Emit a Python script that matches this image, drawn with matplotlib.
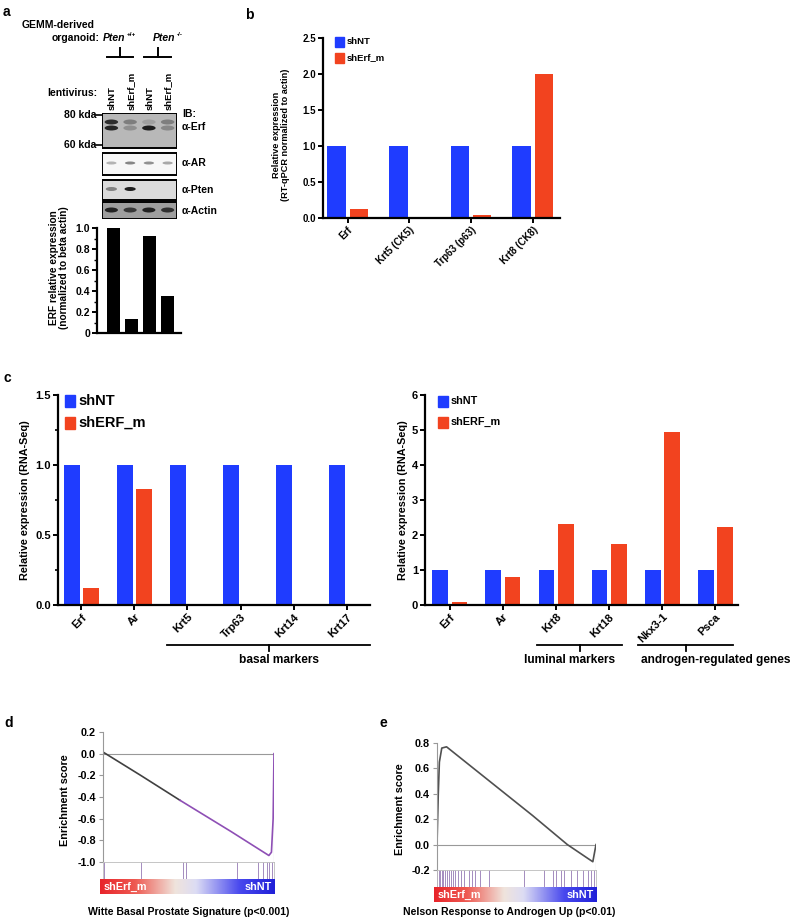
import numpy as np
import matplotlib
matplotlib.use('Agg')
import matplotlib.pyplot as plt
from matplotlib.patches import Rectangle, Ellipse
from matplotlib.lines import Line2D
from matplotlib.colors import LinearSegmentedColormap

plt.rcParams['font.family'] = ['Liberation Sans', 'DejaVu Sans']
plt.rcParams['font.weight'] = 'bold'
plt.rcParams['axes.labelweight'] = 'bold'
plt.rcParams['axes.unicode_minus'] = False

W, H = 800, 917
BLUE = '#1f3cff'
RED = '#f2431f'

# ---- data ----
# panel a: western blot lanes + quantification
lanes_a = ['shNT', 'shErf_m', 'shNT', 'shErf_m']
erf_rel_a = [1.0, 0.13, 0.92, 0.35]
erf_upper = [0.85, 0.35, 0.15, 0.35]
erf_lower = [0.9, 0.25, 0.95, 0.3]
ar_band = [0.3, 0.5, 0.45, 0.35]
pten_band = [0.45, 0.95, 0.0, 0.0]
actin_band = [0.9, 0.75, 0.9, 0.8]

# panel b: RT-qPCR
genes_b = ['Erf', 'Krt5 (CK5)', 'Trp63 (p63)', 'Krt8 (CK8)']
shnt_b = [1.0, 1.0, 1.0, 1.0]
sherf_b = [0.12, 0.005, 0.04, 2.0]

# panel c: RNA-Seq
genes_c1 = ['Erf', 'Ar', 'Krt5', 'Trp63', 'Krt14', 'Krt17']
shnt_c1 = [1.0, 1.0, 1.0, 1.0, 1.0, 1.0]
sherf_c1 = [0.12, 0.83, 0.005, 0.005, 0.005, 0.01]

genes_c2 = ['Erf', 'Ar', 'Krt8', 'Krt18', 'Nkx3-1', 'Psca']
shnt_c2 = [1.0, 1.0, 1.0, 1.0, 1.0, 1.0]
sherf_c2 = [0.1, 0.81, 2.31, 1.74, 4.93, 2.23]

# panels d/e: GSEA running enrichment score
rank_d = [0.0, 0.22, 0.45, 0.75, 0.95, 0.97, 0.985, 0.995, 1.0]
es_d = [0.015, -0.2, -0.43, -0.72, -0.92, -0.94, -0.91, -0.6, 0.0]
hits_d = [0.006, 0.225, 0.465, 0.488, 0.785, 0.908, 0.937, 0.957, 0.973, 0.986]

rank_e = [0.0, 0.008, 0.015, 0.03, 0.06, 0.3, 0.6, 0.82, 0.95, 0.98, 1.0]
es_e = [0.0, 0.4, 0.65, 0.76, 0.77, 0.53, 0.23, 0.0, -0.11, -0.135, 0.0]
hits_e = [0.0, 0.01, 0.02, 0.03, 0.04, 0.05, 0.06, 0.075, 0.09, 0.1, 0.115,
          0.13, 0.15, 0.17, 0.2, 0.22, 0.24, 0.27, 0.33, 0.55, 0.67, 0.73,
          0.75, 0.78, 0.8, 0.84, 0.88, 0.92, 0.95, 0.97, 0.99]

fig = plt.figure(figsize=(W / 100, H / 100), dpi=100)


def px_axes(x0, y0, x1, y1):
    return fig.add_axes([x0 / W, 1 - y1 / H, (x1 - x0) / W, (y1 - y0) / H])


def ftext(x, y, s, **kw):
    kw.setdefault('va', 'center')
    fig.text(x / W, 1 - y / H, s, **kw)


def fline(xs, ys, lw=1.3, color='black'):
    fig.add_artist(Line2D([x / W for x in xs], [1 - y / H for y in ys],
                          lw=lw, color=color))


def style_axes(ax, fs):
    for s in ['top', 'right']:
        ax.spines[s].set_visible(False)
    for s in ['left', 'bottom']:
        ax.spines[s].set_linewidth(1.6)
    ax.tick_params(width=1.4, length=3.5, labelsize=fs, pad=1.5)


def grouped(ax, names, a, b, fs):
    x = np.arange(len(names))
    ax.bar(x - 0.18, a, 0.3, color=BLUE)
    ax.bar(x + 0.18, b, 0.3, color=RED)
    ax.set_xticks(x)
    ax.set_xticklabels(names, rotation=45, ha='right', rotation_mode='anchor',
                       fontsize=fs)


def legend_boxes(x, ys, size, fs, labels):
    for y, lab, c in zip(ys, labels, [BLUE, RED]):
        fig.add_artist(Rectangle((x / W, 1 - (y + size[1] / 2) / H),
                                 size[0] / W, size[1] / H, color=c,
                                 transform=fig.transFigure))
        ftext(x + size[0] + 3, y, lab, fontsize=fs)


# ---------------- panel a ----------------
ftext(3, 12, 'a', fontsize=10)
ftext(22, 25, 'GEMM-derived', fontsize=7.5)
ftext(100, 38, 'organoid:', fontsize=7.5, ha='right')
ftext(103, 38, 'Pten', fontsize=7.5, style='italic')
ftext(127, 35, '+/+', fontsize=4.5)
ftext(153, 38, 'Pten', fontsize=7.5, style='italic')
ftext(177, 35, '-/-', fontsize=4.5)
for xa, xb in [(107, 133), (144, 171)]:
    fline([xa, xb], [57, 57], lw=1.4)
    fline([(xa + xb) / 2] * 2, [57, 48], lw=1.4)
ftext(97, 93, 'lentivirus:', fontsize=7.5, ha='right')

bx0, bx1 = 102, 177
lane_px = [bx0 + (i + 0.5) * (bx1 - bx0) / 4 for i in range(4)]
for xl, lab in zip(lane_px, lanes_a):
    ftext(xl + 1, 110, lab, fontsize=6.8, rotation=90, ha='center', va='bottom')

blot = px_axes(bx0, 113, bx1, 219)
blot.set_xlim(0, 4)
blot.set_ylim(219, 113)
blot.axis('off')
rows = [(113, 148, 0.72), (153, 175, 0.97), (180, 200, 0.86), (202, 219, 0.62)]
for top, bot, bg in rows:
    blot.add_patch(Rectangle((0.02, top), 3.96, bot - top, facecolor=str(bg),
                             edgecolor='black', lw=1.4))


def band(i, yc, h, k, bg, wid=0.72):
    if k <= 0:
        return
    c = bg * (1 - k) + 0.08 * k
    blot.add_patch(Ellipse((i + 0.5, yc), wid, h, color=str(c), lw=0))


for i in range(4):
    band(i, 122, 5, erf_upper[i], 0.72)
    band(i, 128, 5, erf_lower[i], 0.72)
    band(i, 163, 3, ar_band[i], 0.97, 0.55)
    band(i, 189, 4, pten_band[i], 0.86, 0.6)
    band(i, 210, 5, actin_band[i], 0.62, 0.7)

ftext(96, 115, '80 kda', fontsize=7.5, ha='right')
fline([96, 102], [115, 115], lw=1.2)
ftext(96, 145, '60 kda', fontsize=7.5, ha='right')
fline([96, 102], [145, 145], lw=1.2)
ftext(182, 114, 'IB:', fontsize=7.5)
ftext(182, 127, 'α-Erf', fontsize=7.5)
ftext(182, 163, 'α-AR', fontsize=7.5)
ftext(182, 190, 'α-Pten', fontsize=7.5)
ftext(182, 211, 'α-Actin', fontsize=7.5)

axa = px_axes(97, 228, 181, 333)
axa.bar(np.arange(4), erf_rel_a, 0.7, color='black')
axa.set_xlim(-0.9, 3.76)
axa.set_ylim(0, 1.0)
axa.set_yticks([0, 0.2, 0.4, 0.6, 0.8, 1.0])
axa.set_yticklabels(['0', '0.2', '0.4', '0.6', '0.8', '1.0'])
axa.set_yticks(np.arange(0.1, 1.0, 0.2), minor=True)
axa.set_xticks([])
style_axes(axa, 7.5)
axa.tick_params(axis='y', which='minor', width=1.0, length=2)
ftext(59, 268, 'ERF relative expression\n(normalized to beta actin)',
      fontsize=7.3, rotation=90, ha='center', linespacing=1.1)

# ---------------- panel b ----------------
ftext(245, 15, 'b', fontsize=10)
axb = px_axes(323, 38, 560, 218)
grouped(axb, genes_b, shnt_b, sherf_b, 6.8)
axb.set_xlim(-0.4, 3.44)
axb.set_ylim(0, 2.5)
axb.set_yticks([0, 0.5, 1.0, 1.5, 2.0, 2.5])
style_axes(axb, 7)
legend_boxes(335, [42, 58], (9, 10), 6.8, ['shNT', 'shErf_m'])
ftext(281, 135, 'Relative expression\n(RT-qPCR normalized to actin)',
      fontsize=6.6, rotation=90, ha='center', linespacing=1.1)

# ---------------- panel c ----------------
ftext(4, 378, 'c', fontsize=10)
axc1 = px_axes(58, 395, 370, 605)
grouped(axc1, genes_c1, shnt_c1, sherf_c1, 7.2)
axc1.set_xlim(-0.44, 5.44)
axc1.set_ylim(0, 1.5)
axc1.set_yticks([0, 0.5, 1.0, 1.5])
axc1.set_yticks([0.25, 0.75, 1.25], minor=True)
style_axes(axc1, 8)
axc1.tick_params(axis='y', which='minor', width=1.2, length=2.5)
legend_boxes(65, [401, 423], (10, 12), 10.5, ['shNT', 'shERF_m'])
ftext(25, 500, 'Relative expression (RNA-Seq)', fontsize=7.8, rotation=90,
      ha='center')

axc2 = px_axes(425, 395, 738, 605)
grouped(axc2, genes_c2, shnt_c2, sherf_c2, 7.2)
axc2.set_xlim(-0.47, 5.43)
axc2.set_ylim(0, 6)
axc2.set_yticks(range(7))
style_axes(axc2, 8)
legend_boxes(438, [401, 422], (10, 11), 7.8, ['shNT', 'shERF_m'])
ftext(403, 500, 'Relative expression (RNA-Seq)', fontsize=7.8, rotation=90,
      ha='center')

# group brackets: line ends, text centre
for xa, xb, xt, lab in [(167, 370, 279, 'basal markers'),
                        (537, 622, 570, 'luminal markers'),
                        (638, 733, 716, 'androgen-regulated genes')]:
    xm = (xa + xb) / 2
    fline([xa, xb], [645, 645], lw=1.3)
    fline([xm, xm], [645, 651], lw=1.3)
    ftext(xt, 660, lab, fontsize=8.6, ha='center')

# ---------------- panels d / e ----------------
cmap_bar = LinearSegmentedColormap.from_list(
    'gsea', [(0, '#e8242a'), (0.2, '#ee5a52'), (0.43, '#f0e4dc'),
             (0.55, '#dcdcf4'), (0.8, '#4848ee'), (1.0, '#2020d8')])


def gsea(x0, x1, y0, y1, ylim, ticks, rank, es, hits, split, title, tx, lx,
         letter, letx):
    ax = px_axes(x0, y0, x1, y1)
    ax.set_xlim(0, 1)
    ax.set_ylim(*ylim)
    ax.set_xticks([])
    ax.set_yticks(ticks)
    ax.set_yticklabels(['%.1f' % t for t in ticks])
    for s in ['top', 'right', 'bottom']:
        ax.spines[s].set_visible(False)
    ax.spines['left'].set_color('#999999')
    ax.spines['left'].set_linewidth(0.8)
    ax.tick_params(axis='y', labelsize=7.8, length=3, width=0.8,
                   color='#999999', pad=2)
    ax.axhline(0, color='#999999', lw=0.8)
    ax.plot([1, 1], [ylim[0], 0], color='#999999', lw=0.8)
    r = np.array(rank)
    e = np.array(es)
    if split is None:
        ax.plot(r, e, color='#505050', lw=1.2)
    else:
        ax.plot(r[:split + 1], e[:split + 1], color='#404040', lw=1.2)
        ax.plot(r[split:], e[split:], color='#8e4fb5', lw=1.2)

    hax = px_axes(x0, y1, x1, y1 + 17)
    hax.set_xlim(0, 1)
    hax.set_ylim(0, 1)
    hax.set_xticks([])
    hax.set_yticks([])
    for s in hax.spines.values():
        s.set_color('#bbbbbb')
        s.set_linewidth(0.6)
    hax.vlines(hits, 0, 1, color='#a48cbf', lw=0.7)

    cax = px_axes(x0 - 3, y1 + 17, x1 + 1, y1 + 32)
    cax.imshow(np.linspace(0, 1, 256)[None, :], aspect='auto', cmap=cmap_bar,
               extent=(0, 1, 0, 1))
    cax.axis('off')
    cax.text(0.02, 0.45, 'shErf_m', color='white', fontsize=7.8,
             va='center', ha='left', transform=cax.transAxes)
    cax.text(0.98, 0.45, 'shNT', color='white', fontsize=7.8,
             va='center', ha='right', transform=cax.transAxes)

    ftext(tx, 912, title, fontsize=7.6, ha='center')
    ftext(lx, (y0 + y1) / 2 + 3, 'Enrichment score', fontsize=7.8,
          rotation=90, ha='center')
    ftext(letx, 723, letter, fontsize=10)


gsea(103, 274, 732, 862, (-1.0, 0.2), [0.2, 0.0, -0.2, -0.4, -0.6, -0.8, -1.0],
     rank_d, es_d, hits_d, 2, 'Witte Basal Prostate Signature (p<0.001)',
     189, 65, 'd', 4)
gsea(437, 596, 743, 870, (-0.2, 0.8), [0.8, 0.6, 0.4, 0.2, 0.0, -0.2],
     rank_e, es_e, hits_e, None, 'Nelson Response to Androgen Up (p<0.01)',
     509, 400, 'e', 380)

fig.savefig('out.png', dpi=100)
